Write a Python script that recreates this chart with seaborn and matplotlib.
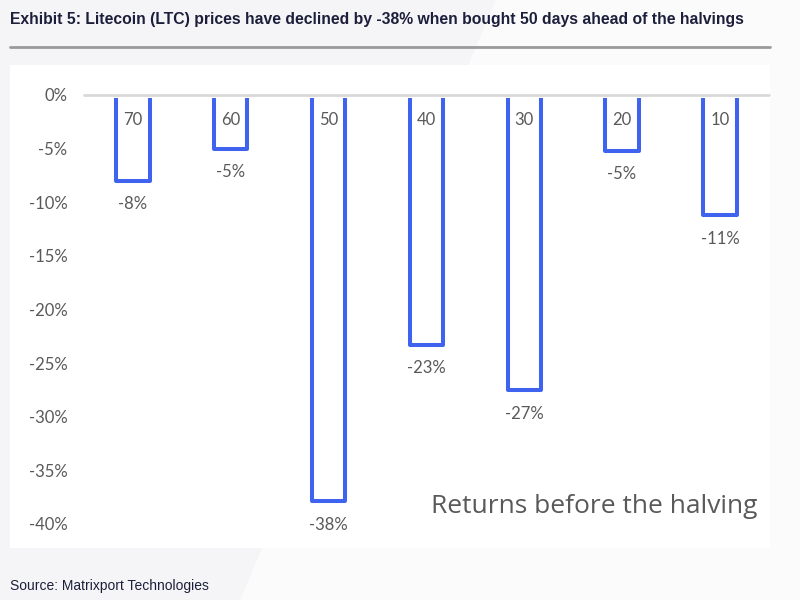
import seaborn as sns
import pandas as pd
import matplotlib.pyplot as plt
from matplotlib.patches import Rectangle, Polygon
from matplotlib.lines import Line2D

days = ['70', '60', '50', '40', '30', '20', '10']
returns = [-8.0, -5.0, -37.9, -23.3, -27.5, -5.2, -11.2]
labels = ['-8%', '-5%', '-38%', '-23%', '-27%', '-5%', '-11%']

df = pd.DataFrame({'days': days, 'ret': returns})

sns.set_theme(style='white')
plt.rcParams['font.family'] = ['Lato', 'DejaVu Sans']

fig = plt.figure(figsize=(8, 6), dpi=100)
fig.patch.set_facecolor('#f5f5f7')

# faint diagonal background shapes
fig.patches.append(Polygon([[0.62, 1.0], [1.0, 1.0], [1.0, 0.0], [0.30, 0.0]], closed=True,
                           transform=fig.transFigure, facecolor='#fbfbfc', edgecolor='none', zorder=0))
# white chart panel
fig.patches.append(Rectangle((0.013, 0.087), 0.95, 0.805, transform=fig.transFigure,
                             facecolor='white', edgecolor='none', zorder=1))

ax = fig.add_axes([0.105, 0.1267, 0.856, 0.715])
ax.set_facecolor('none')
ax.set_zorder(2)

blue = '#3f63ee'
sns.barplot(data=df, x='days', y='ret', order=days, ax=ax, color='white',
            edgecolor=blue, linewidth=2.9, width=0.34)
for p in ax.patches:
    p.set_clip_on(False)
    p.set_zorder(2)
    p.set_joinstyle('round')

ax.set_xlim(-0.5, 6.5)
ax.set_ylim(-40, 0)
# hide the top edge of the bars behind the axis line
ax.axhline(0, color='white', lw=3.6, zorder=5, clip_on=False)
ax.axhline(0, color='#d9d9d9', lw=2, zorder=6, clip_on=False)

ax.set_yticks(range(0, -45, -5))
ax.set_yticklabels([f'{v}%' for v in range(0, -45, -5)], color='#595959', fontsize=12)
ax.tick_params(axis='y', length=0, pad=12)
ax.set_xticks([])
ax.set_xlabel('')
ax.set_ylabel('')
for s in ax.spines.values():
    s.set_visible(False)

for i, (d, v, lab) in enumerate(zip(days, returns, labels)):
    ax.text(i, -2.35, d, ha='center', va='center', color='#595959', fontsize=12)
    ax.text(i, v - 2.2, lab, ha='center', va='center', color='#595959', fontsize=12)

ax.text(0.745, 0.04, 'Returns before the halving', transform=ax.transAxes,
        ha='center', va='center', color='#595959', fontsize=19, family=['Open Sans', 'DejaVu Sans'])

fig.text(0.013, 0.968, 'Exhibit 5: Litecoin (LTC) prices have declined by -38% when bought 50 days ahead of the halvings',
         ha='left', va='center', color='#1c1f3b', fontsize=11.3, fontweight='bold',
         family=['Liberation Sans', 'DejaVu Sans'])
fig.lines.append(Line2D([0.013, 0.963], [0.922, 0.922], transform=fig.transFigure,
                        color='#9a9a9a', lw=2))
fig.text(0.013, 0.023, 'Source: Matrixport Technologies', ha='left', va='center',
         color='#1c1f3b', fontsize=10, family=['Liberation Sans', 'DejaVu Sans'])

fig.savefig('out.png', dpi=100, facecolor=fig.get_facecolor())
